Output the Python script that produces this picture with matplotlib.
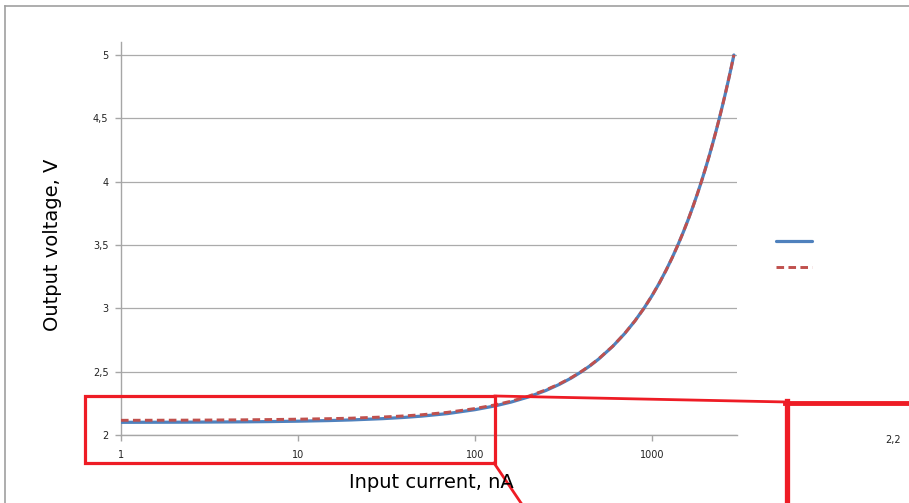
import matplotlib
matplotlib.use("Agg")
import matplotlib.pyplot as plt
from matplotlib.lines import Line2D
from matplotlib.patches import Rectangle

# ---- data ----
current_nA = [1, 2, 3, 5, 7, 10, 15, 20, 30, 40, 50, 70, 100, 130, 160, 200, 250, 300,
              350, 400, 450, 500, 600, 700, 800, 900, 1000, 1100, 1200, 1300, 1400,
              1500, 1600, 1700, 1800, 1900, 2000, 2100, 2200, 2300, 2400, 2500,
              2600, 2700, 2800, 2900]
voltage_blue = [2.100, 2.101, 2.102, 2.104, 2.106, 2.109, 2.114, 2.119, 2.129, 2.139,
                2.149, 2.169, 2.200, 2.230, 2.260, 2.300, 2.350, 2.400, 2.450, 2.500,
                2.550, 2.600, 2.700, 2.800, 2.900, 3.000, 3.100, 3.200, 3.300, 3.400,
                3.500, 3.600, 3.700, 3.800, 3.900, 4.000, 4.100, 4.200, 4.300, 4.400,
                4.500, 4.600, 4.700, 4.800, 4.900, 5.000]
voltage_red = [2.116, 2.117, 2.118, 2.120, 2.122, 2.125, 2.129, 2.133, 2.142, 2.151,
               2.160, 2.179, 2.209, 2.238, 2.267, 2.306, 2.355, 2.404, 2.453, 2.503,
               2.552, 2.602, 2.701, 2.801, 2.900, 3.000, 3.100, 3.200, 3.300, 3.400,
               3.500, 3.600, 3.700, 3.800, 3.900, 4.000, 4.100, 4.200, 4.300, 4.400,
               4.500, 4.600, 4.700, 4.800, 4.900, 5.000]
x_ticks = [1, 10, 100, 1000]
x_tick_labels = ["1", "10", "100", "1000"]
y_ticks = [2, 2.5, 3, 3.5, 4, 4.5, 5]
y_tick_labels = ["2", "2,5", "3", "3,5", "4", "4,5", "5"]
x_label = "Input current, nA"
y_label = "Output voltage, V"
inset_label = "2,2"

W, H = 909, 503
fig = plt.figure(figsize=(W / 100, H / 100), dpi=100)
fig.patch.set_facecolor("white")

def fx(px):
    return px / W

def fy(py):
    return 1 - py / H

# axes placement
ax_left, ax_right, ax_top, ax_bottom = 121, 737, 42.3, 435
ax = fig.add_axes([fx(ax_left), fy(ax_bottom), (ax_right - ax_left) / W, (ax_bottom - ax_top) / H])
ax.set_xscale("log")
ax.set_xlim(1, 3020)
ax.set_ylim(2, 5.1)

blue = "#4F81BD"
red = "#C0504D"
axis_gray = "#A6A6A6"

l1, = ax.plot(current_nA, voltage_blue, color=blue, lw=2.3, solid_capstyle="round",
              solid_joinstyle="round", zorder=3)
l2, = ax.plot(current_nA, voltage_red, color=red, lw=2.1, linestyle=(0, (2.6, 1.5)), zorder=4)

ax.set_xticks(x_ticks)
ax.set_xticklabels(x_tick_labels)
ax.xaxis.set_minor_locator(matplotlib.ticker.NullLocator())
ax.set_yticks(y_ticks)
ax.set_yticklabels(y_tick_labels)
ax.tick_params(axis="both", labelsize=7, colors=axis_gray, labelcolor="#222222",
               length=4, width=1, direction="out")
ax.tick_params(axis="x", pad=7)
ax.tick_params(axis="y", pad=5)

ax.grid(axis="y", color="#ABABAB", lw=0.9)
ax.set_axisbelow(True)
for s in ["top", "right"]:
    ax.spines[s].set_visible(False)
for s in ["left", "bottom"]:
    ax.spines[s].set_color(axis_gray)
    ax.spines[s].set_linewidth(1)

# axis titles
fig.text(fx(431), fy(482), x_label, fontsize=14, ha="center", va="center", color="black")
fig.text(fx(53), fy(245), y_label, fontsize=14, ha="center", va="center",
         rotation=90, color="black")

# legend (no text labels)
leg = fig.legend([l1, l2], [" ", " "], loc="center left",
                 bbox_to_anchor=(fx(770), fy(255)), frameon=False,
                 handlelength=3.3, fontsize=8, labelspacing=1.45,
                 handletextpad=0.2, borderpad=0)

# outer border of the chart frame
fig.add_artist(Line2D([fx(5), fx(5)], [fy(6), 0], color="#A0A0A0", lw=1.2))
fig.add_artist(Line2D([fx(5), 1], [fy(6), fy(6)], color="#A0A0A0", lw=1.2))

# red zoom-callout annotations
rc = "#EE1C25"
fig.add_artist(Rectangle((fx(85), fy(463)), (495 - 85) / W, (463 - 396) / H,
                         fill=False, edgecolor=rc, lw=2.3))
fig.add_artist(Line2D([fx(495), fx(787)], [fy(396), fy(402)], color=rc, lw=2.0))
fig.add_artist(Line2D([fx(494), fx(521)], [fy(463), fy(503)], color=rc, lw=2.0))
fig.add_artist(Line2D([fx(787), fx(787)], [fy(401), 0], color=rc, lw=3.8))
fig.add_artist(Line2D([fx(785), 1], [fy(403), fy(403)], color=rc, lw=3.5))
fig.text(fx(893), fy(440), inset_label, fontsize=7, ha="center", va="center", color="#222222")

fig.savefig("out.png", dpi=100, facecolor="white")
